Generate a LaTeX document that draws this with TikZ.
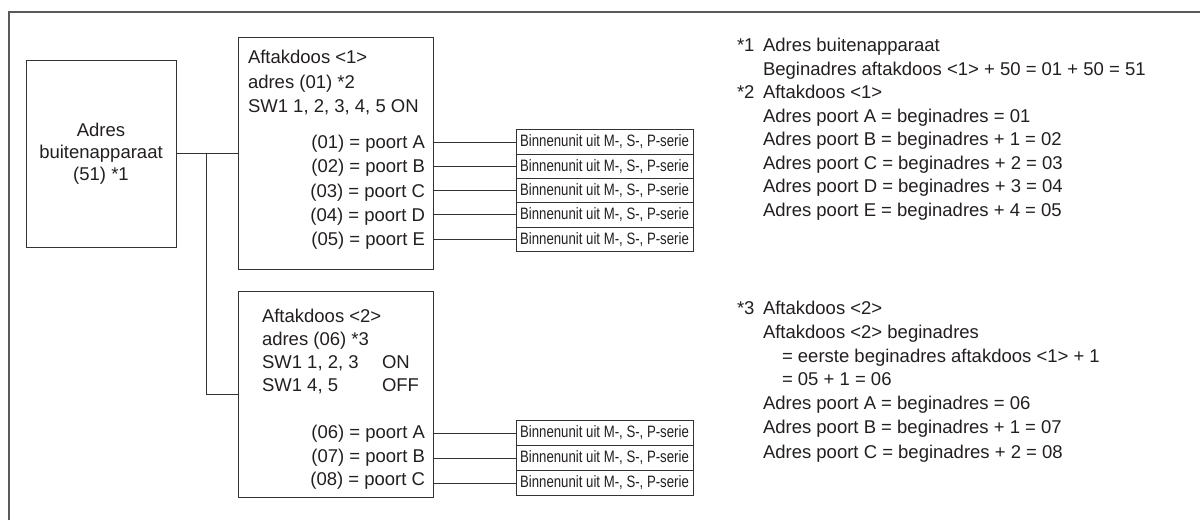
\documentclass[tikz,border=0pt]{standalone}
\usepackage{fontspec}
\setmainfont{Liberation Sans}
\newfontfamily\narrowfont[FakeStretch=0.8]{Liberation Sans}
\definecolor{ink}{HTML}{231F20}
\definecolor{wire}{HTML}{333333}
\definecolor{framec}{HTML}{5A5A5A}
\tikzset{
  every node/.style={inner sep=0pt, outer sep=0pt, text=ink},
  box/.style={draw=wire, line width=1pt},
  wireline/.style={draw=wire, line width=1pt},
  unitbox/.style={draw=wire, line width=0.9pt, minimum width=177pt, font=\narrowfont\fontsize{16.5}{18}\selectfont},
  txt/.style={anchor=base west, font=\fontsize{18.5}{22}\selectfont},
  porttxt/.style={anchor=base east, font=\fontsize{18.5}{22}\selectfont}
}
\begin{document}
\begin{tikzpicture}[x=1pt,y=-1pt]
\useasboundingbox (0,0) rectangle (1200,520);
\fill[white] (0,0) rectangle (1200,520);
% frame
\draw[framec, line width=1.8pt] (9,520) -- (9,12) -- (1200,12);

% outdoor unit
\node[box, minimum width=150pt, minimum height=187pt] (out) at (101,153.5) {};
\node[align=center, font=\fontsize{18.5}{22}\selectfont] (outtxt) at (101,154) {Adres\\buitenapparaat\\(51) *1};

% branch box 1
\node[box, minimum width=195pt, minimum height=232pt] (b1) at (335.5,153.5) {};
\node[txt] (b1t1) at (248,63.5) {Aftakdoos <1>};
\node[txt] (b1t2) at (248,88) {adres (01) *2};
\node[txt] (b1t3) at (248,112.5) {SW1 1, 2, 3, 4, 5 ON};
\foreach \i/\l/\n in {0/A/01,1/B/02,2/C/03,3/D/04,4/E/05}{
  \node[porttxt] (p1\l) at (425,{142+24.3*\i+6.5}) {(\n) = poort \l};
  \node[unitbox, minimum height=24.3pt] (u1\l) at (604.5,{142+24.3*\i}) {Binnenunit uit M-, S-, P-serie};
  \draw[wireline] (b1.east |- u1\l.west) -- (u1\l.west);
}

% branch box 2
\node[box, minimum width=195pt, minimum height=206pt] (b2) at (335.5,394) {};
\node[txt] (b2t1) at (262,322) {Aftakdoos <2>};
\node[txt] (b2t2) at (262,345.5) {adres (06) *3};
\node[txt] (b2t3) at (262,368.5) {SW1 1, 2, 3};
\node[txt] (b2t3b) at (382,368.5) {ON};
\node[txt] (b2t4) at (262,391.5) {SW1 4, 5};
\node[txt] (b2t4b) at (382,391.5) {OFF};
\foreach \i/\l/\n in {0/A/06,1/B/07,2/C/08}{
  \node[porttxt] (p2\l) at (425,{432+23.5*\i+6.5}) {(\n) = poort \l};
  \node[unitbox, minimum height=25pt] (u2\l) at (604.5,{433+25*\i}) {Binnenunit uit M-, S-, P-serie};
  \draw[wireline] (b2.east |- u2\l.west) -- (u2\l.west);
}

% connectors
\draw[wireline] (out.east) -- (b1.west);
\coordinate (j) at (206,153.5);
\draw[wireline] (j) |- (b2.west);

% notes
\node[txt] (n1s) at (737,51.5) {*1};
\node[txt] (n1a) at (763,51.5) {Adres buitenapparaat};
\node[txt] (n1b) at (763,75) {Beginadres aftakdoos <1> + 50 = 01 + 50 = 51};
\node[txt] (n2s) at (737,98.5) {*2};
\node[txt] (n2a) at (763,98.5) {Aftakdoos <1>};
\node[txt] (n2b) at (763,122) {Adres poort A = beginadres = 01};
\node[txt] (n2c) at (763,145.5) {Adres poort B = beginadres + 1 = 02};
\node[txt] (n2d) at (763,169) {Adres poort C = beginadres + 2 = 03};
\node[txt] (n2e) at (763,192.5) {Adres poort D = beginadres + 3 = 04};
\node[txt] (n2f) at (763,216) {Adres poort E = beginadres + 4 = 05};

\node[txt] (n3s) at (737,314.5) {*3};
\node[txt] (n3a) at (763,314.5) {Aftakdoos <2>};
\node[txt] (n3b) at (763,338.5) {Aftakdoos <2> beginadres};
\node[txt] (n3c) at (782,362.5) {= eerste beginadres aftakdoos <1> + 1};
\node[txt] (n3d) at (782,385.5) {= 05 + 1 = 06};
\node[txt] (n3e) at (763,409.5) {Adres poort A = beginadres = 06};
\node[txt] (n3f) at (763,433.5) {Adres poort B = beginadres + 1 = 07};
\node[txt] (n3g) at (763,458.5) {Adres poort C = beginadres + 2 = 08};
\end{tikzpicture}
\end{document}
